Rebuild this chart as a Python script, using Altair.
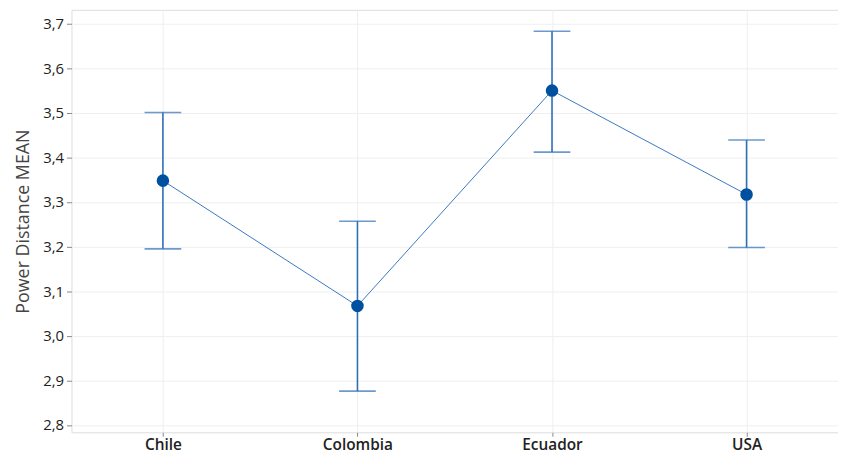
import altair as alt
import pandas as pd

countries = ["Chile", "Colombia", "Ecuador", "USA"]
means = [3.348, 3.067, 3.550, 3.317]
lower = [3.195, 2.876, 3.412, 3.198]
upper = [3.501, 3.257, 3.683, 3.439]
y_ticks = [2.8, 2.9, 3.0, 3.1, 3.2, 3.3, 3.4, 3.5, 3.6, 3.7]

df = pd.DataFrame({"country": countries, "mean": means, "lo": lower, "hi": upper})

x = alt.X("country:N", sort=countries, title=None,
          scale=alt.Scale(type="point", padding=0.47),
          axis=alt.Axis(labelAngle=0, labelFontSize=15.5, labelColor="#222222",
                        labelFontWeight=600, labelFont="Open Sans",
                        grid=True, gridColor="#efefef", domain=False,
                        tickColor="#888888", tickSize=4, labelPadding=1))
yscale = alt.Scale(domain=[2.7836, 3.731], nice=False, zero=False)
y = alt.Y("mean:Q", scale=yscale, title="Power Distance MEAN",
          axis=alt.Axis(values=y_ticks,
                        labelExpr="replace(format(datum.value, '.1f'), '.', ',')",
                        labelFontSize=15, labelColor="#222222", labelFont="Open Sans",
                        titleFontSize=18, titleFont="Open Sans", titleFontWeight="normal",
                        titleColor="#444444", titlePadding=10,
                        grid=True, gridColor="#efefef", domain=False,
                        tickColor="#888888", tickSize=5, labelPadding=3))

base = alt.Chart(df)
line = base.mark_line(color="#3a78c0", strokeWidth=1).encode(x=x, y=y)
rule = base.mark_rule(color="#2f6fb8", strokeWidth=1.6).encode(
    x=alt.X("country:N", sort=countries), y=alt.Y("lo:Q", scale=yscale), y2="hi:Q")
cap_lo = base.mark_tick(color="#2f6fb8", size=37, thickness=1.6).encode(
    x=alt.X("country:N", sort=countries), y=alt.Y("lo:Q", scale=yscale))
cap_hi = base.mark_tick(color="#2f6fb8", size=37, thickness=1.6).encode(
    x=alt.X("country:N", sort=countries), y=alt.Y("hi:Q", scale=yscale))
pts = base.mark_point(filled=True, opacity=1, color="#0050a0", size=160).encode(
    x=alt.X("country:N", sort=countries), y=alt.Y("mean:Q", scale=yscale))

chart = alt.layer(line, rule, cap_lo, cap_hi, pts).properties(
    width=773, height=426,
    autosize=alt.AutoSizeParams(type="none"),
    padding={"left": 64, "top": 0, "right": 0, "bottom": 20},
).configure_view(stroke="#8a8a8a", strokeWidth=1.2).configure(background="white")

chart.save("out.html", embed_options={"renderer": "svg", "actions": False})
